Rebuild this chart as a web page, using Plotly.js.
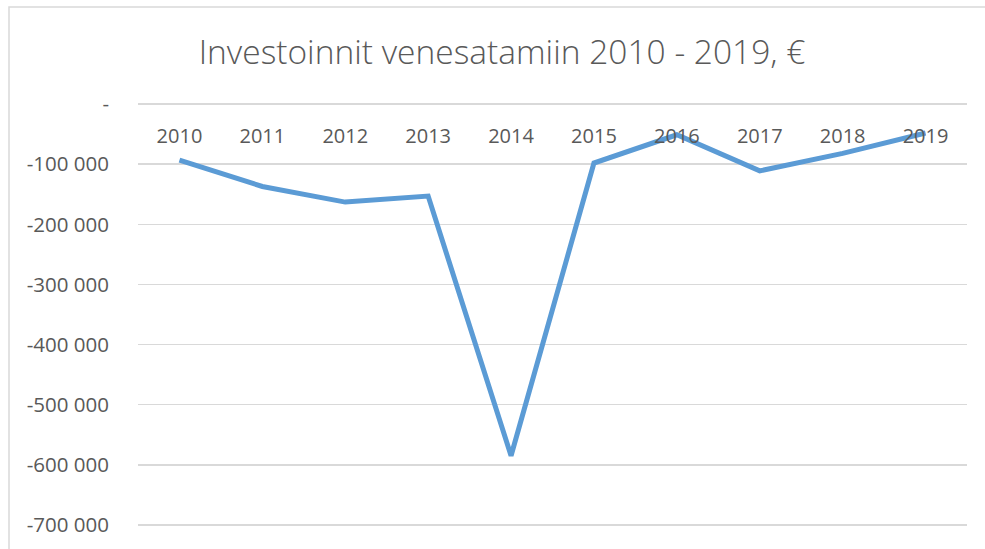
<!DOCTYPE html>
<html>
<head>
<meta charset="utf-8">
<script src="https://cdn.plot.ly/plotly-3.0.1.min.js"></script>
<style>html,body{margin:0;padding:0;background:#fff;}#chart{width:985px;height:549px;}</style>
</head>
<body>
<div id="chart"></div>
<script>
const years = ['2010','2011','2012','2013','2014','2015','2016','2017','2018','2019'];
const investments = [-93000, -137000, -163000, -153000, -585000, -98000, -51000, -111000, -82000, -48000];
const yTickVals = [0, -100000, -200000, -300000, -400000, -500000, -600000, -700000];
const yTickText = ['-', '-100 000', '-200 000', '-300 000', '-400 000', '-500 000', '-600 000', '-700 000'];
const titleText = 'Investoinnit venesatamiin 2010 - 2019, €';

const W = 985, H = 549;
const L = 138, R = 18, T = 102, B = 22;
const pw = W - L - R, ph = H - T - B;
const yPad = 3500;

const trace = {
  x: years, y: investments, type: 'scatter', mode: 'lines',
  line: {color: '#5B9BD5', width: 5}, hoverinfo: 'skip'
};

const layout = {
  width: W, height: H,
  margin: {l: L, r: R, t: T, b: B, pad: 0},
  paper_bgcolor: '#ffffff', plot_bgcolor: '#ffffff',
  showlegend: false,
  font: {family: '"Open Sans", sans-serif', color: '#595959'},
  title: {
    text: titleText,
    font: {family: '"Open Sans", sans-serif', size: 33.5, color: '#595959', weight: 300},
    xref: 'container', x: 502 / W, xanchor: 'center',
    yref: 'container', y: 1 - 52 / H, yanchor: 'middle'
  },
  xaxis: {
    type: 'category',
    anchor: 'free', position: 1 - (yPad / (700000 + 2 * yPad)), side: 'bottom',
    showgrid: false, zeroline: false, showline: false,
    ticks: '', ticklabelstandoff: 18,
    tickfont: {family: '"Open Sans", sans-serif', size: 20, color: '#595959'},
    range: [-0.5, 9.5]
  },
  yaxis: {
    range: [-700000 - yPad, yPad],
    tickvals: yTickVals, ticktext: yTickText,
    showgrid: true, gridcolor: '#d9d9d9', gridwidth: 1.5,
    zeroline: false, showline: false, ticks: '',
    ticklabelstandoff: 28,
    tickfont: {family: '"Open Sans", sans-serif', size: 20.5, color: '#595959'}
  },
  shapes: [{
    type: 'rect', xref: 'paper', yref: 'paper',
    x0: (9 - L) / pw, x1: (1050 - L) / pw,
    y0: (T + ph - 600) / ph, y1: (T + ph - 7) / ph,
    line: {color: '#d9d9d9', width: 1.5}, fillcolor: 'rgba(0,0,0,0)', layer: 'below'
  }]
};

Plotly.newPlot('chart', [trace], layout, {displayModeBar: false, staticPlot: true});
</script>
</body>
</html>
